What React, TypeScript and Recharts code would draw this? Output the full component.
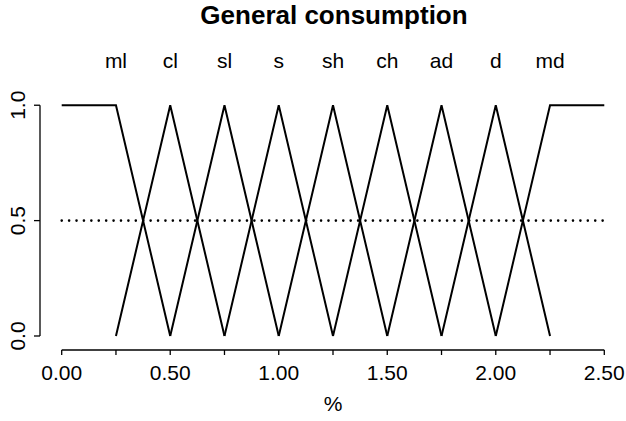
import React from "react";
import { LineChart, Line, XAxis, YAxis, ReferenceLine } from "recharts";

const X_POINTS = [0, 0.25, 0.5, 0.75, 1, 1.25, 1.5, 1.75, 2, 2.25, 2.5];

// membership degree of each set at every X_POINTS entry (null = not drawn)
const ML = [1, 1, 0, null, null, null, null, null, null, null, null];
const CL = [null, 0, 1, 0, null, null, null, null, null, null, null];
const SL = [null, null, 0, 1, 0, null, null, null, null, null, null];
const S = [null, null, null, 0, 1, 0, null, null, null, null, null];
const SH = [null, null, null, null, 0, 1, 0, null, null, null, null];
const CH = [null, null, null, null, null, 0, 1, 0, null, null, null];
const AD = [null, null, null, null, null, null, 0, 1, 0, null, null];
const D = [null, null, null, null, null, null, null, 0, 1, 0, null];
const MD = [null, null, null, null, null, null, null, null, 0, 1, 1];
const CUT = [0.5, 0.5, 0.5, 0.5, 0.5, 0.5, 0.5, 0.5, 0.5, 0.5, 0.5];

const SET_NAMES = ["ml", "cl", "sl", "s", "sh", "ch", "ad", "d", "md"];
const SET_PEAKS = [0.25, 0.5, 0.75, 1, 1.25, 1.5, 1.75, 2, 2.25];
const X_TICKS = [0, 0.25, 0.5, 0.75, 1, 1.25, 1.5, 1.75, 2, 2.25, 2.5];
const X_LABELED = [0, 0.5, 1, 1.5, 2, 2.5];
const Y_TICKS = [0, 0.5, 1];

const SERIES = [ML, CL, SL, S, SH, CH, AD, D, MD];

const data = X_POINTS.map((x, i) => {
  const row: Record<string, number | null> = { x, cut: CUT[i] };
  SET_NAMES.forEach((n, k) => {
    row[n] = SERIES[k][i];
  });
  return row;
});

const FONT = '"Liberation Sans", Arial, Helvetica, sans-serif';
const PLOT_TOP = 96;
const Y_MIN = -0.0607;

const BottomTick = (props: any) => {
  const { x, payload } = props;
  if (!X_LABELED.includes(payload.value)) return null;
  return (
    <text x={x} y={380} textAnchor="middle" fontSize={21} fontFamily={FONT} fill="#000">
      {payload.value.toFixed(2)}
    </text>
  );
};

const TopTick = (props: any) => {
  const { x, payload } = props;
  const idx = SET_PEAKS.indexOf(payload.value);
  return (
    <text x={x} y={PLOT_TOP - 28} textAnchor="middle" fontSize={21} fontFamily={FONT} fill="#000">
      {SET_NAMES[idx]}
    </text>
  );
};

const LeftTick = (props: any) => {
  const { y, payload } = props;
  return (
    <text
      x={25}
      y={y}
      textAnchor="middle"
      fontSize={21}
      fontFamily={FONT}
      fill="#000"
      transform={`rotate(-90 25 ${y})`}
    >
      {payload.value.toFixed(1)}
    </text>
  );
};

export default function App() {
  return (
    <div style={{ position: "absolute", left: 0, top: 0, width: 626, height: 421, background: "#fff" }}>
      <div
        style={{
          position: "absolute",
          left: 0,
          top: 2,
          width: 668,
          textAlign: "center",
          fontFamily: FONT,
          fontWeight: "bold",
          fontSize: 26,
          lineHeight: "26px",
        }}
      >
        General consumption
      </div>
      <LineChart
        width={626}
        height={421}
        data={data}
        margin={{ top: PLOT_TOP - 40, right: 0, bottom: 0, left: 0 }}
      >
        <XAxis
          dataKey="x"
          type="number"
          domain={[-0.1, 2.6]}
          ticks={X_TICKS}
          height={71}
          axisLine={false}
          tickSize={5}
          tickLine={{ stroke: "#000", strokeWidth: 1.3 }}
          tick={<BottomTick />}
          interval={0}
          label={{ value: "%", position: "insideBottom", offset: 10, fontSize: 21, fontFamily: FONT, fill: "#000" }}
        />
        <XAxis
          xAxisId="top"
          orientation="top"
          dataKey="x"
          type="number"
          domain={[-0.1, 2.6]}
          ticks={SET_PEAKS}
          height={40}
          axisLine={false}
          tickLine={false}
          tick={<TopTick />}
          interval={0}
        />
        <YAxis
          type="number"
          domain={[Y_MIN, 1.04]}
          ticks={Y_TICKS}
          width={40}
          axisLine={false}
          tickSize={6}
          tickLine={{ stroke: "#000", strokeWidth: 1.3 }}
          tick={<LeftTick />}
          interval={0}
        />
        <ReferenceLine
          segment={[{ x: 0, y: Y_MIN }, { x: 2.5, y: Y_MIN }]}
          stroke="#000"
          strokeWidth={1.3}
          ifOverflow="visible"
        />
        <ReferenceLine
          segment={[{ x: -0.1, y: 0 }, { x: -0.1, y: 1 }]}
          stroke="#000"
          strokeWidth={1.3}
          ifOverflow="visible"
        />
        <Line
          dataKey="cut"
          type="linear"
          stroke="#000"
          strokeWidth={2.6}
          strokeDasharray="0.01 7.4"
          strokeLinecap="round"
          dot={false}
          isAnimationActive={false}
        />
        {SET_NAMES.map((n) => (
          <Line
            key={n}
            dataKey={n}
            type="linear"
            stroke="#000"
            strokeWidth={2}
            dot={false}
            connectNulls={false}
            isAnimationActive={false}
          />
        ))}
      </LineChart>
    </div>
  );
}
